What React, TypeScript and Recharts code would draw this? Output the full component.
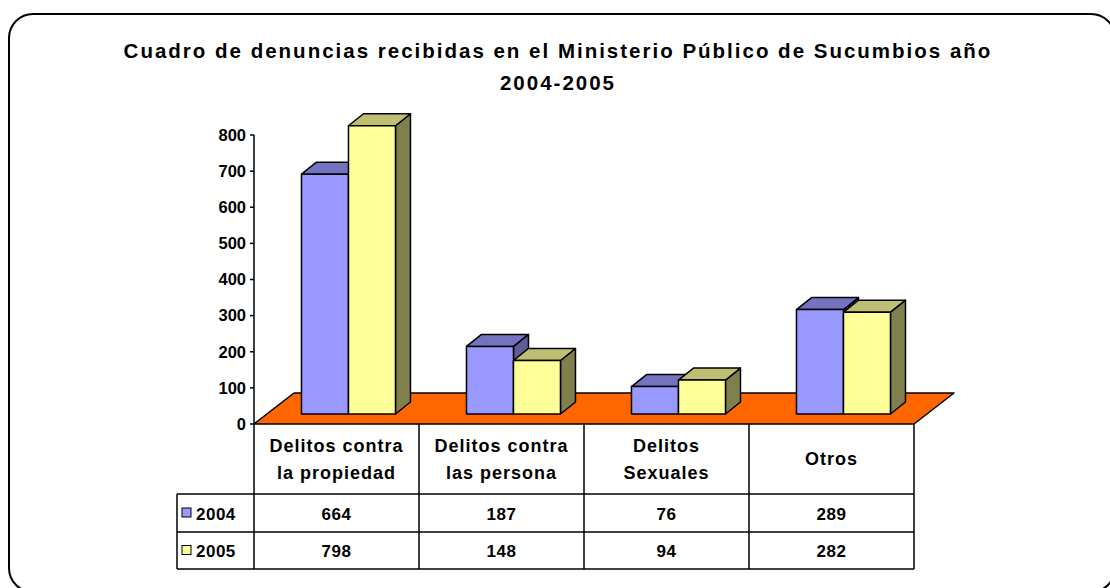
import React from 'react';
import { BarChart, Bar, XAxis, YAxis } from 'recharts';

const categories = ['Delitos contra la propiedad', 'Delitos contra las persona', 'Delitos Sexuales', 'Otros'];
const categoryLines = [['Delitos contra', 'la propiedad'], ['Delitos contra', 'las persona'], ['Delitos', 'Sexuales'], ['Otros']];
const years = ['2004', '2005'];
const values2004 = [664, 187, 76, 289];
const values2005 = [798, 148, 94, 282];
const yTicks = [0, 100, 200, 300, 400, 500, 600, 700, 800];
const titleLines = ['Cuadro de denuncias recibidas en el Ministerio Público de Sucumbios año', '2004-2005'];

const W = 1110;
const H = 588;
const FONT = '"Liberation Sans", Arial, sans-serif';

// plot area (front plane of the floor)
const PL = 254;
const PR = 914;
const PT = 135;
const PB = 424;
// floor depth and bar placement inside it
const FLOOR_DX = 40;
const FLOOR_DY = -31;
const BAR_OX = 12;
const BAR_OY = -10;
const BAR_DX = 15;
const BAR_DY = -12;

const seriesStyle = [
    { key: 'y2004', face: '#9999FF', top: '#7373BF', side: '#5C5C99' },
    { key: 'y2005', face: '#FFFF99', top: '#BFBF73', side: '#80804D' },
];

const data = categories.map((name, i) => ({ name, y2004: values2004[i], y2005: values2005[i] }));
const seriesValues = [values2004, values2005];

const Box3D = (props: any) => {
    const { x, y, width, height, face, top, side } = props;
    if (width == null || height == null) return null;
    const x0 = x + BAR_OX;
    const y0 = y + BAR_OY;
    const w = width;
    const h = height;
    const topPts = `${x0},${y0} ${x0 + BAR_DX},${y0 + BAR_DY} ${x0 + w + BAR_DX},${y0 + BAR_DY} ${x0 + w},${y0}`;
    const sidePts = `${x0 + w},${y0} ${x0 + w + BAR_DX},${y0 + BAR_DY} ${x0 + w + BAR_DX},${y0 + h + BAR_DY} ${x0 + w},${y0 + h}`;
    return (
        <g stroke="#000" strokeWidth={1.5} strokeLinejoin="round">
            <polygon points={sidePts} fill={side} />
            <polygon points={topPts} fill={top} />
            <rect x={x0} y={y0} width={w} height={h} fill={face} />
        </g>
    );
};

const Backdrop = () => {
    const colW = (PR - PL) / categories.length;
    const rowTop = [424, 494, 532, 569];
    const legL = 177;
    return (
        <svg width={W} height={H} style={{ position: 'absolute', left: 0, top: 0 }} fontFamily={FONT}>
            <rect x={9} y={14} width={1106} height={578} rx={24} ry={24} fill="#fff" stroke="#000" strokeWidth={2} />
            {titleLines.map((t, i) => (
                <text key={t} x={558} y={58 + i * 32} textAnchor="middle" fontSize={20.5} fontWeight="bold" letterSpacing={2}>
                    {t}
                </text>
            ))}
            <polygon
                points={`${PL},${PB} ${PR},${PB} ${PR + FLOOR_DX},${PB + FLOOR_DY} ${PL + FLOOR_DX},${PB + FLOOR_DY}`}
                fill="#FF6600"
                stroke="#000"
                strokeWidth={1.5}
                strokeLinejoin="round"
            />
            {/* data table */}
            <g stroke="#000" strokeWidth={1.5}>
                {categories.map((_, i) => (
                    <line key={i} x1={PL + colW * i} y1={PB} x2={PL + colW * i} y2={rowTop[3]} />
                ))}
                <line x1={PR} y1={PB} x2={PR} y2={rowTop[3]} />
                <line x1={legL} y1={rowTop[1]} x2={legL} y2={rowTop[3]} />
                {rowTop.slice(1).map((ry) => (
                    <line key={ry} x1={legL} y1={ry} x2={PR} y2={ry} />
                ))}
            </g>
            {categoryLines.map((lines, i) => {
                const cx = PL + colW * (i + 0.5);
                const mid = (rowTop[0] + rowTop[1]) / 2 + 6;
                return lines.map((ln, j) => (
                    <text
                        key={`${i}-${j}`}
                        x={cx}
                        y={mid + (j - (lines.length - 1) / 2) * 27}
                        textAnchor="middle"
                        fontSize={18}
                        fontWeight="bold"
                        letterSpacing={1}
                    >
                        {ln}
                    </text>
                ));
            })}
            {years.map((yr, r) => {
                const cy = (rowTop[r + 1] + rowTop[r + 2]) / 2;
                return (
                    <g key={yr}>
                        <rect x={182} y={cy - 5} width={9} height={9} fill={seriesStyle[r].face} stroke="#000" strokeWidth={1} />
                        <text x={196} y={cy + 6.5} fontSize={17} fontWeight="bold" letterSpacing={0.5}>
                            {yr}
                        </text>
                        {seriesValues[r].map((v, i) => (
                            <text key={i} x={PL + colW * (i + 0.5)} y={cy + 6.5} textAnchor="middle" fontSize={17} fontWeight="bold" letterSpacing={0.5}>
                                {v}
                            </text>
                        ))}
                    </g>
                );
            })}
        </svg>
    );
};

export default function App() {
    return (
        <div style={{ position: 'absolute', left: 0, top: 0, width: W, height: H, fontFamily: FONT }}>
            <Backdrop />
            <div style={{ position: 'absolute', left: 0, top: 0 }}>
                <BarChart
                    width={W}
                    height={H}
                    data={data}
                    margin={{ top: PT, right: W - PR, bottom: H - PB, left: PL - 60 }}
                    barGap={0}
                    barCategoryGap="21.5%"
                >
                    <XAxis dataKey="name" hide />
                    <YAxis
                        width={60}
                        domain={[0, 800]}
                        ticks={yTicks}
                        interval={0}
                        axisLine={{ stroke: '#000', strokeWidth: 1.5 }}
                        tickLine={{ stroke: '#000', strokeWidth: 1.5 }}
                        tickSize={4}
                        tickMargin={4}
                        tick={{ fill: '#000', fontSize: 16.5, fontWeight: 'bold', fontFamily: FONT }}
                    />
                    {seriesStyle.map((s) => (
                        <Bar
                            key={s.key}
                            dataKey={s.key}
                            isAnimationActive={false}
                            shape={(p: any) => <Box3D {...p} face={s.face} top={s.top} side={s.side} />}
                        />
                    ))}
                </BarChart>
            </div>
        </div>
    );
}
